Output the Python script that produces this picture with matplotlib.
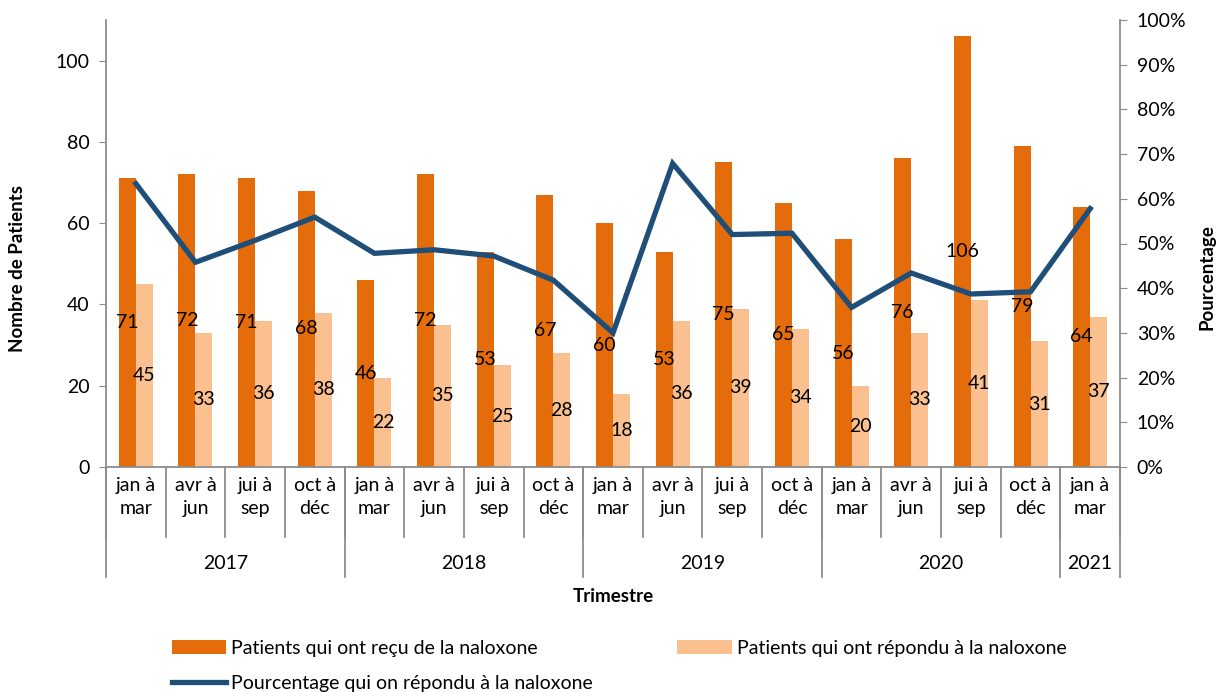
import matplotlib
matplotlib.use('Agg')
import matplotlib.pyplot as plt
import numpy as np

plt.rcParams['font.family'] = ['Lato', 'DejaVu Sans']

quarters = ['jan à\nmar', 'avr à\njun', 'jui à\nsep', 'oct à\ndéc'] * 4 + ['jan à\nmar']
years = ['2017', '2018', '2019', '2020', '2021']
year_sizes = [4, 4, 4, 4, 1]

recu = [71, 72, 71, 68, 46, 72, 53, 67, 60, 53, 75, 65, 56, 76, 106, 79, 64]
repondu = [45, 33, 36, 38, 22, 35, 25, 28, 18, 36, 39, 34, 20, 33, 41, 31, 37]
pourcentage = [63.4, 45.8, 50.7, 55.9, 47.8, 48.6, 47.2, 41.8, 30.0, 67.9,
               52.0, 52.3, 35.7, 43.4, 38.7, 39.2, 57.8]

dark = '#E46C0A'
light = '#FAC090'
navy = '#1F4E79'
grey = '#8C8C8C'
fs = 14

fig = plt.figure(figsize=(12.2, 6.92), dpi=100)
ax = fig.add_axes([106 / 1220, 1 - 467 / 692, (1120 - 106) / 1220, 447 / 692])
ax2 = ax.twinx()

x = np.arange(len(recu))
w = 0.285
b1 = ax.bar(x - w / 2, recu, w, color=dark, label='Patients qui ont reçu de la naloxone', zorder=2)
b2 = ax.bar(x + w / 2, repondu, w, color=light, label='Patients qui ont répondu à la naloxone', zorder=2)
ax.bar_label(b1, label_type='center', fontsize=fs, color='black')
ax.bar_label(b2, label_type='center', fontsize=fs, color='black')

ln, = ax2.plot(x, np.array(pourcentage) / 100, color=navy, lw=3.8,
               label='Pourcentage qui on répondu à la naloxone', solid_joinstyle='miter')

ax.set_xlim(-0.5, len(recu) - 0.5)
ax.set_ylim(0, 110)
ax.set_yticks(range(0, 101, 20))
ax2.set_ylim(0, 1)
ax2.set_yticks(np.arange(0, 1.01, 0.1))
ax2.set_yticklabels([f'{int(round(v * 100))}%' for v in np.arange(0, 1.01, 0.1)])

for a in (ax, ax2):
    a.spines['top'].set_visible(False)
    for s in ('left', 'right', 'bottom'):
        a.spines[s].set_color(grey)
        a.spines[s].set_linewidth(1.3)
ax.spines['right'].set_visible(False)
ax2.spines['left'].set_visible(False)
ax2.spines['bottom'].set_visible(False)

ax.tick_params(axis='y', length=5, color=grey, labelsize=fs, pad=7)
ax2.tick_params(axis='y', length=5, color=grey, labelsize=fs, pad=7)

# category labels and separators
ax.set_xticks(x)
ax.set_xticklabels(quarters, fontsize=fs, linespacing=1.45)
ax.tick_params(axis='x', length=0, pad=7)

trans = ax.get_xaxis_transform()
for i in range(len(recu) + 1):
    ax.plot([i - 0.5, i - 0.5], [0, -0.157], transform=trans, color=grey,
            lw=1.3, clip_on=False)
start = -0.5
for yr, n in zip(years, year_sizes):
    ax.plot([start, start], [0, -0.246], transform=trans, color=grey, lw=1.3, clip_on=False)
    ax.text(start + n / 2, -0.215, yr, transform=trans, ha='center', va='center', fontsize=fs)
    start += n
ax.plot([start, start], [0, -0.246], transform=trans, color=grey, lw=1.3, clip_on=False)

fig.text(613 / 1220, 1 - 596 / 692, 'Trimestre', ha='center', va='center',
         fontsize=13.5, fontweight='bold')
fig.text(18 / 1220, 1 - 268 / 692, 'Nombre de Patients', ha='center', va='center',
         rotation=90, fontsize=13.5, fontweight='bold')
fig.text(1207 / 1220, 1 - 277 / 692, 'Pourcentage', ha='center', va='center',
         rotation=90, fontsize=13.5, fontweight='bold')

fig.legend([b1, ln, b2], [b1.get_label(), ln.get_label(), b2.get_label()],
           ncol=2, loc='upper left', bbox_to_anchor=(164 / 1220, 1 - 632 / 692),
           frameon=False, fontsize=fs, handlelength=2.8, handletextpad=0.25,
           columnspacing=4.35, labelspacing=0.95, borderaxespad=0)

fig.savefig('out.png', dpi=100)
